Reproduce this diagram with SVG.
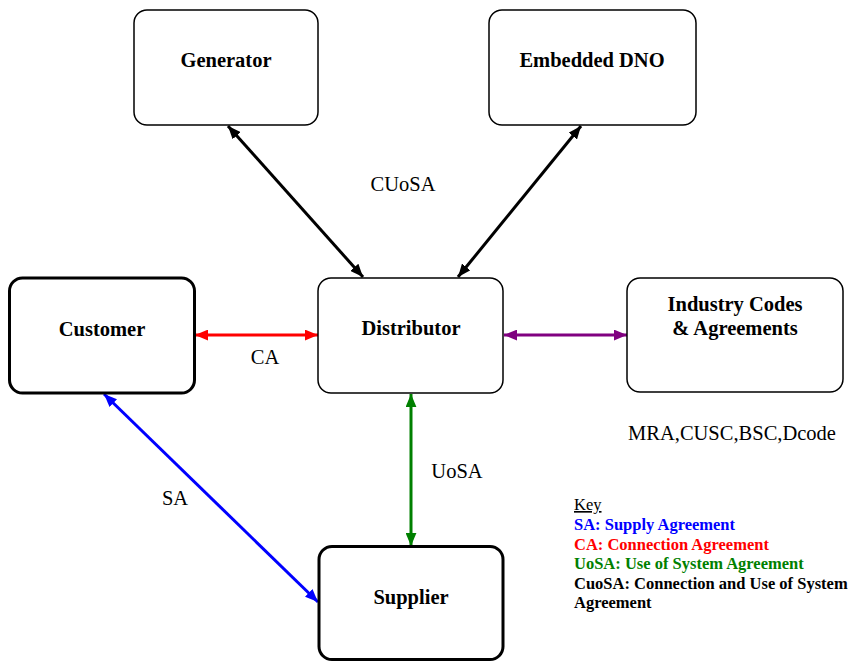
<svg xmlns="http://www.w3.org/2000/svg" width="850" height="661" viewBox="0 0 850 661">
<style>
.box{fill:#fff;stroke:#000;stroke-width:1.5}
.thick{stroke-width:3}
.lbl{font-family:"Liberation Serif","Times New Roman",serif;font-size:20.5px;font-weight:bold;text-anchor:middle;fill:#000}
.edge{font-family:"Liberation Serif","Times New Roman",serif;font-size:20.5px;fill:#000}
.key{font-family:"Liberation Serif","Times New Roman",serif;font-size:16.5px;font-weight:bold}
.ln{stroke-width:3;fill:none}
</style>
<defs>
<marker id="ak" viewBox="0 0 12 10" refX="12" refY="5" markerWidth="13" markerHeight="11" markerUnits="userSpaceOnUse" orient="auto-start-reverse"><path d="M0,0L12,5L0,10z" fill="#000"/></marker>
<marker id="ar" viewBox="0 0 12 10" refX="12" refY="5" markerWidth="13" markerHeight="11" markerUnits="userSpaceOnUse" orient="auto-start-reverse"><path d="M0,0L12,5L0,10z" fill="#f00"/></marker>
<marker id="ap" viewBox="0 0 12 10" refX="12" refY="5" markerWidth="13" markerHeight="11" markerUnits="userSpaceOnUse" orient="auto-start-reverse"><path d="M0,0L12,5L0,10z" fill="#800080"/></marker>
<marker id="ag" viewBox="0 0 12 10" refX="12" refY="5" markerWidth="13" markerHeight="11" markerUnits="userSpaceOnUse" orient="auto-start-reverse"><path d="M0,0L12,5L0,10z" fill="#008000"/></marker>
<marker id="ab" viewBox="0 0 12 10" refX="12" refY="5" markerWidth="13" markerHeight="11" markerUnits="userSpaceOnUse" orient="auto-start-reverse"><path d="M0,0L12,5L0,10z" fill="#00f"/></marker>
</defs>
<rect width="850" height="661" fill="#fff"/>
<g id="connectors">
<line class="ln" x1="228" y1="126" x2="363" y2="277" stroke="#000" marker-start="url(#ak)" marker-end="url(#ak)"/>
<line class="ln" x1="581" y1="126" x2="458" y2="277" stroke="#000" marker-start="url(#ak)" marker-end="url(#ak)"/>
<line class="ln" x1="195" y1="335" x2="318" y2="335" stroke="#f00" marker-start="url(#ar)" marker-end="url(#ar)"/>
<line class="ln" x1="504" y1="335" x2="627" y2="335" stroke="#800080" marker-start="url(#ap)" marker-end="url(#ap)"/>
<line class="ln" x1="411" y1="394" x2="411" y2="546" stroke="#008000" marker-start="url(#ag)" marker-end="url(#ag)"/>
<line class="ln" x1="104" y1="394" x2="318" y2="602" stroke="#00f" marker-start="url(#ab)" marker-end="url(#ab)"/>
</g>
<g id="generator"><rect class="box" x="134" y="10" width="184" height="115" rx="13"/><text class="lbl" x="226" y="67">Generator</text></g>
<g id="dno"><rect class="box" x="489" y="10" width="207" height="115" rx="13"/><text class="lbl" x="592" y="67">Embedded DNO</text></g>
<g id="customer"><rect class="box thick" x="9.5" y="278" width="185" height="115" rx="13"/><text class="lbl" x="102" y="336">Customer</text></g>
<g id="distributor"><rect class="box" x="318" y="278" width="185" height="115" rx="13"/><text class="lbl" x="411" y="335">Distributor</text></g>
<g id="industry"><rect class="box" x="627" y="278" width="216" height="114" rx="13"/><text class="lbl" x="735" y="311">Industry Codes</text><text class="lbl" x="735" y="335">&amp; Agreements</text></g>
<g id="supplier"><rect class="box thick" x="319" y="546.5" width="184" height="113" rx="13"/><text class="lbl" x="411" y="604">Supplier</text></g>
<g id="labels">
<text class="edge" x="403" y="191" text-anchor="middle">CUoSA</text>
<text class="edge" x="265" y="364" text-anchor="middle">CA</text>
<text class="edge" x="457" y="478" text-anchor="middle">UoSA</text>
<text class="edge" x="175" y="505" text-anchor="middle">SA</text>
<text class="edge" x="732" y="440" text-anchor="middle">MRA,CUSC,BSC,Dcode</text>
</g>
<g id="key">
<text x="574" y="510" font-family="Liberation Serif, serif" font-size="16.5" text-decoration="underline" fill="#000">Key</text>
<text class="key" x="574" y="530" fill="#00f">SA: Supply Agreement</text>
<text class="key" x="574" y="549.5" fill="#f00">CA: Connection Agreement</text>
<text class="key" x="574" y="569" fill="#008000">UoSA: Use of System Agreement</text>
<text class="key" x="574" y="588.5" fill="#000">CuoSA: Connection and Use of System</text>
<text class="key" x="574" y="608" fill="#000">Agreement</text>
</g>
</svg>
